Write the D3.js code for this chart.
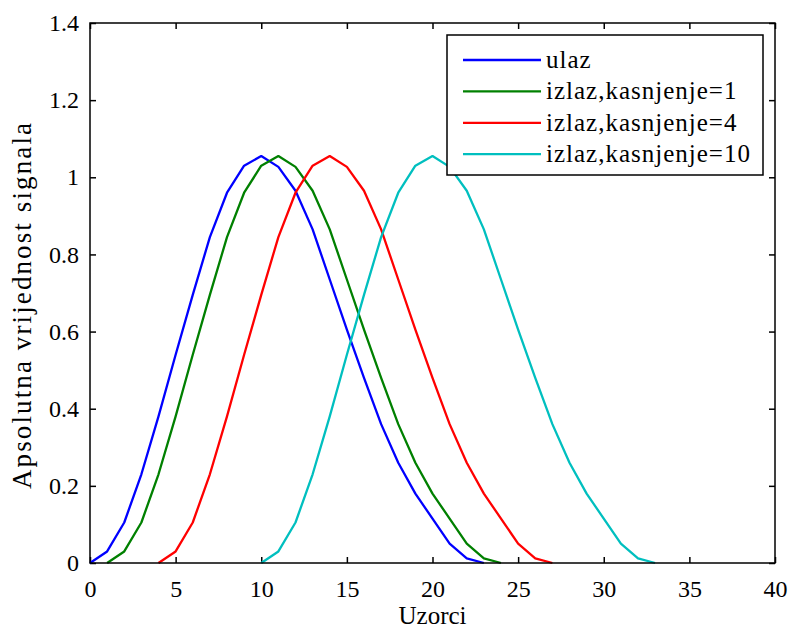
<!DOCTYPE html>
<html>
<head>
<meta charset="utf-8">
<script src="https://cdn.jsdelivr.net/npm/d3@7"></script>
<style>
  body { margin: 0; background: #fff; }
  svg text { font-family: "Liberation Serif", "Times New Roman", serif; fill: #000; }
</style>
</head>
<body>
<div id="graph"></div>
<script>
// values
const ulazX = d3.range(0, 24);
const ulaz = [0, 0.03, 0.105, 0.23, 0.38, 0.54, 0.695, 0.845, 0.96, 1.03, 1.055, 1.027, 0.965, 0.865, 0.735, 0.605, 0.48, 0.36, 0.26, 0.18, 0.115, 0.05, 0.012, 0];
const izlaz1X = d3.range(1, 25);
const izlaz1 = [0, 0.03, 0.105, 0.23, 0.38, 0.54, 0.695, 0.845, 0.96, 1.03, 1.055, 1.027, 0.965, 0.865, 0.735, 0.605, 0.48, 0.36, 0.26, 0.18, 0.115, 0.05, 0.012, 0];
const izlaz4X = d3.range(4, 28);
const izlaz4 = [0, 0.03, 0.105, 0.23, 0.38, 0.54, 0.695, 0.845, 0.96, 1.03, 1.055, 1.027, 0.965, 0.865, 0.735, 0.605, 0.48, 0.36, 0.26, 0.18, 0.115, 0.05, 0.012, 0];
const izlaz10X = d3.range(10, 34);
const izlaz10 = [0, 0.03, 0.105, 0.23, 0.38, 0.54, 0.695, 0.845, 0.96, 1.03, 1.055, 1.027, 0.965, 0.865, 0.735, 0.605, 0.48, 0.36, 0.26, 0.18, 0.115, 0.05, 0.012, 0];

const names = ['ulaz', 'izlaz,kasnjenje=1', 'izlaz,kasnjenje=4', 'izlaz,kasnjenje=10'];
const colors = ['#0000ff', '#008000', '#ff0000', '#00bfbf'];
const xTicks = [0, 5, 10, 15, 20, 25, 30, 35, 40];
const yTicks = [0, 0.2, 0.4, 0.6, 0.8, 1, 1.2, 1.4];

const series = [
  {name: names[0], color: colors[0], xs: ulazX, ys: ulaz},
  {name: names[1], color: colors[1], xs: izlaz1X, ys: izlaz1},
  {name: names[2], color: colors[2], xs: izlaz4X, ys: izlaz4},
  {name: names[3], color: colors[3], xs: izlaz10X, ys: izlaz10}
];

const w = 790, h = 630;
const pLeft = 90, pRight = 775, pTop = 23, pBottom = 563;

const svg = d3.select('#graph').append('svg').attr('width', w).attr('height', h);

const xScale = d3.scaleLinear().domain([0, 40]).range([pLeft, pRight]);
const yScale = d3.scaleLinear().domain([0, 1.4]).range([pBottom, pTop]);

const fmtY = (d) => d === 0 ? '0' : (d === 1 ? '1' : d3.format('.1f')(d));

// axes, MATLAB style: ticks inward, labels outside
const xAxis = d3.axisBottom(xScale).tickValues(xTicks).tickSizeInner(-6).tickSizeOuter(0).tickPadding(17);
const yAxis = d3.axisLeft(yScale).tickValues(yTicks).tickFormat(fmtY).tickSizeInner(-6).tickSizeOuter(0).tickPadding(11);

const gx = svg.append('g').attr('transform', 'translate(0,' + pBottom + ')').call(xAxis);
const gy = svg.append('g').attr('transform', 'translate(' + pLeft + ',0)').call(yAxis);
svg.append('g').attr('transform', 'translate(0,' + pTop + ')')
   .call(d3.axisTop(xScale).tickValues(xTicks).tickSizeInner(-6).tickSizeOuter(0).tickFormat(''));
svg.append('g').attr('transform', 'translate(' + pRight + ',0)')
   .call(d3.axisRight(yScale).tickValues(yTicks).tickSizeInner(-6).tickSizeOuter(0).tickFormat(''));

svg.selectAll('.domain').remove();
svg.selectAll('.tick line').attr('stroke', '#000').attr('stroke-width', 1.5);
svg.selectAll('g').attr('font-family', null);
gx.selectAll('text').style('font-size', '24px');
gy.selectAll('text').style('font-size', '24px');

// lines
const line = d3.line().x((d) => xScale(d[0])).y((d) => yScale(d[1]));
series.forEach((s) => {
  svg.append('path')
     .datum(s.xs.map((x, i) => [x, s.ys[i]]))
     .attr('d', line)
     .attr('fill', 'none')
     .attr('stroke', s.color)
     .attr('stroke-width', 2.3)
     .attr('stroke-linejoin', 'round');
});

// box
svg.append('rect').attr('x', pLeft).attr('y', pTop).attr('width', pRight - pLeft).attr('height', pBottom - pTop)
   .attr('fill', 'none').attr('stroke', '#000').attr('stroke-width', 1.5);

// axis labels
svg.append('text').attr('x', (pLeft + pRight) / 2).attr('y', 624).attr('text-anchor', 'middle')
   .style('font-size', '25px').text('Uzorci');
svg.append('text').attr('transform', 'translate(31,306) rotate(-90)')
   .attr('text-anchor', 'middle').style('font-size', '27px')
   .attr('textLength', 366).attr('lengthAdjust', 'spacing')
   .text('Apsolutna vrijednost signala');

// legend
const lg = svg.append('g');
lg.append('rect').attr('x', 447).attr('y', 35).attr('width', 316).attr('height', 140)
  .attr('fill', '#fff').attr('stroke', '#000').attr('stroke-width', 1.5);
series.forEach((s, i) => {
  const yy = 60 + i * 31.4;
  lg.append('line').attr('x1', 463).attr('x2', 541).attr('y1', yy).attr('y2', yy)
    .attr('stroke', s.color).attr('stroke-width', 2.3);
  lg.append('text').attr('x', 546).attr('y', yy + 8).style('font-size', '25px')
    .style('letter-spacing', '1px').text(s.name);
});
</script>
</body>
</html>
